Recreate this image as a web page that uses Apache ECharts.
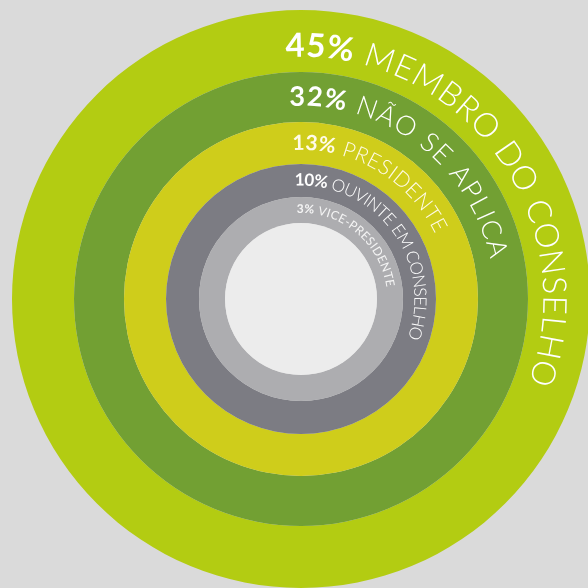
<!DOCTYPE html>
<html><head><meta charset="utf-8">
<script src="https://cdn.jsdelivr.net/npm/echarts@6/dist/echarts.min.js"></script>
<style>html,body{margin:0;padding:0;background:#dadada}#c{width:588px;height:588px}</style>
</head><body><div id="c"></div>
<script>
// ---- data ----
const categories = ['MEMBRO DO CONSELHO', 'NÃO SE APLICA', 'PRESIDENTE', 'OUVINTE EM CONSELHO', 'VICE-PRESIDENTE'];
const percents = [45, 32, 13, 10, 3];

// ---- style / layout ----
const ringColors = ['#b3cc12', '#72a033', '#cfcd1b', '#7c7c83', '#adadb0'];
const innerColor = '#ececec';
const center = [301, 299];
const ringRadii = [[227, 289], [177, 227], [135, 177], [102, 135], [76, 102]];
const innerRadius = 76;
const textRadii = [253, 202, 156, 119, 90];
const fontSizes = [33, 27, 21, 17, 12];
const nameWeights = ['300', '300', '300', '300', 'normal'];
const startDeg = [-3.5, -3.3, -3.2, -3, -2.8];
const endDeg = [110, 78, 64, 110, 82];
const textColors = ['#ffffff', '#ffffff', '#fffbe8', '#ffffff', '#f4f4f4'];
const fontFamily = 'Lato, "Open Sans", sans-serif';

const chart = echarts.init(document.getElementById('c'), null, {renderer: 'canvas'});

const series = categories.map((name, i) => ({
  type: 'pie', center: center, radius: ringRadii[i], startAngle: 90,
  silent: true, animation: false, label: {show: false}, labelLine: {show: false},
  emphasis: {disabled: true}, itemStyle: {borderWidth: 0},
  data: [{name: name, value: percents[i], itemStyle: {color: ringColors[i]}}]
}));
series.push({
  type: 'pie', center: center, radius: [0, innerRadius], silent: true, animation: false,
  label: {show: false}, labelLine: {show: false}, emphasis: {disabled: true},
  data: [{name: '', value: 1, itemStyle: {color: innerColor}}]
});

const ctx = document.createElement('canvas').getContext('2d');
function measure(ch, weight, size) {
  ctx.font = weight + ' ' + size + 'px ' + fontFamily;
  return ctx.measureText(ch).width;
}

const elements = [];
categories.forEach((name, i) => {
  const chars = [];
  (percents[i] + '%').split('').forEach(c => chars.push({c, w: 'bold'}));
  (' ' + name).split('').forEach(c => chars.push({c, w: nameWeights[i]}));
  const size = fontSizes[i];
  chars.forEach(o => o.width = measure(o.c, o.w, size));
  const r = textRadii[i];
  const total = chars.reduce((s, o) => s + o.width, 0);
  const arc = (endDeg[i] - startDeg[i]) * Math.PI / 180 * r;
  const spacing = (arc - total) / (chars.length - 1);
  let acc = 0;
  const a0 = startDeg[i] * Math.PI / 180;
  chars.forEach(o => {
    const mid = acc + o.width / 2;
    acc += o.width + spacing;
    if (o.c === ' ') return;
    const th = a0 + mid / r;
    elements.push({
      type: 'text', silent: true, z: 100,
      x: center[0] + r * Math.sin(th), y: center[1] - r * Math.cos(th),
      rotation: -th,
      style: {
        text: o.c, fill: textColors[i], fontSize: size, fontWeight: o.w,
        fontFamily: fontFamily, align: 'center', verticalAlign: 'middle'
      }
    });
  });
});

chart.setOption({
  backgroundColor: '#dadada',
  animation: false,
  series: series,
  graphic: {elements: elements}
});
</script>
</body></html>
